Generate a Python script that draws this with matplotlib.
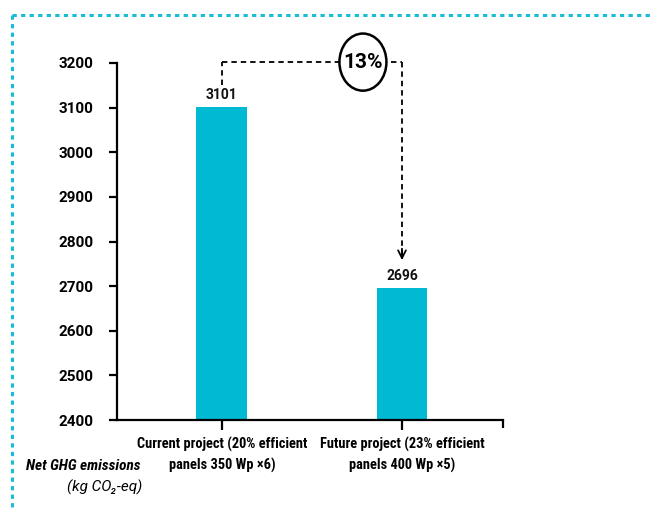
import matplotlib
matplotlib.use("Agg")
import matplotlib.pyplot as plt
from matplotlib.patches import Ellipse
from matplotlib.lines import Line2D

categories = ["Current project (20% efficient\npanels 350 Wp \u00d76)",
              "Future project (23% efficient\npanels 400 Wp \u00d75)"]
emissions = [3101, 2696]
reduction_label = "13%"
y_ticks = [2400, 2500, 2600, 2700, 2800, 2900, 3000, 3100, 3200]

BAR_COLOR = "#00B9D3"
FONT = ["Roboto", "DejaVu Sans"]
NARROW = ["Roboto Condensed", "Roboto", "DejaVu Sans"]

plt.rcParams["font.family"] = FONT

fig = plt.figure(figsize=(6.51, 5.13), dpi=100)
ax = fig.add_axes([117 / 651, 1 - 420 / 513, (503 - 117) / 651, (420 - 63) / 513])

x = [0, 1]
ax.bar(x, emissions, width=0.283, color=BAR_COLOR, zorder=2)
for xi, v in zip(x, emissions):
    ax.text(xi, v + 12, f"{v}", ha="center", va="bottom", fontsize=10,
            fontweight="bold", color="#111111")

ax.set_ylim(2400, 3200)
ax.set_xlim(-0.583, 1.561)
ax.set_yticks(y_ticks)
ax.set_yticklabels([str(t) for t in y_ticks], fontsize=11, fontweight="bold")
ax.set_xticks(x)
ax.set_xticklabels(categories, fontsize=10.4, fontweight="bold", linespacing=1.5,
                   family=NARROW)
ax.tick_params(axis="y", length=6, width=1.6, pad=11)
ax.tick_params(axis="x", length=7, width=1.6, pad=5)
for s in ["top", "right"]:
    ax.spines[s].set_visible(False)
for s in ["left", "bottom"]:
    ax.spines[s].set_linewidth(1.6)

# tick at the right end of the x axis
ax.plot([1.561, 1.561], [2400, 2400 - 800 * 8 / 357], color="black", lw=1.6,
        clip_on=False, solid_capstyle="butt")

# reduction connector between the two bars
y_top = 3202
dash = dict(color="black", lw=1.3, linestyle=(0, (3, 2.2)), clip_on=False)
ax.plot([0, 0], [3151, y_top], **dash)
ax.plot([0, 1], [y_top, y_top], **dash)
ax.plot([1, 1], [y_top, 2760], **dash)
ax.annotate("", xy=(1, 2752), xytext=(1, 2790),
            arrowprops=dict(arrowstyle="->", color="black", lw=1.3,
                            mutation_scale=14), annotation_clip=False)
circle = Ellipse((0.783, y_top), width=0.261, height=128, facecolor="white",
                 edgecolor="black", lw=1.8, clip_on=False, zorder=5)
ax.add_patch(circle)
ax.text(0.783, y_top, reduction_label, ha="center", va="center", fontsize=15,
        fontweight="bold", zorder=6)

# axis title at the lower left
fig.text(140 / 651, 1 - 466 / 513, "Net GHG emissions", ha="right", va="center",
         fontsize=11, fontstyle="italic", fontweight="bold", family=NARROW)
fig.text(142 / 651, 1 - 487 / 513, "(kg CO\u2082-eq)", ha="right", va="center",
         fontsize=11, fontstyle="italic")

# dashed frame
frame = dict(color="#1BBCD6", lw=2.2, linestyle=(0, (1.4, 1.4)),
             transform=fig.transFigure)
fig.add_artist(Line2D([12 / 651, 1.0], [1 - 15 / 513, 1 - 15 / 513], **frame))
fig.add_artist(Line2D([12 / 651, 12 / 651], [1 - 15 / 513, 0.005], **frame))

fig.savefig("out.png", dpi=100)
